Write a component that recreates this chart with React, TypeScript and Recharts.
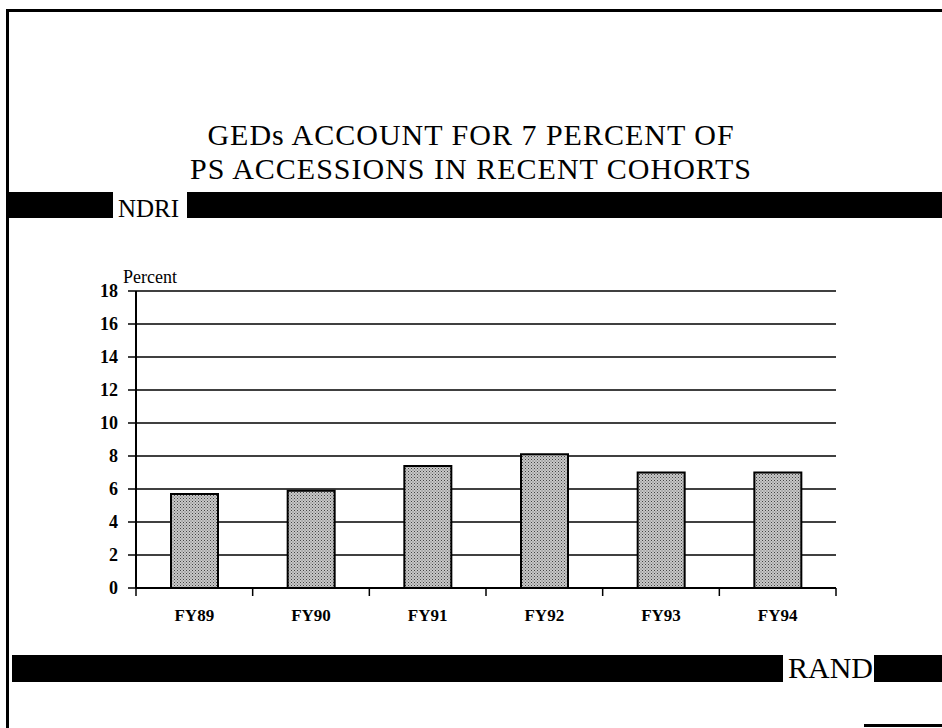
import React from 'react';
import { BarChart, Bar, XAxis, YAxis, CartesianGrid } from 'recharts';

// Fiscal-year cohorts and GED share of PS accessions (percent)
const categories = ['FY89', 'FY90', 'FY91', 'FY92', 'FY93', 'FY94'];
const gedPercent = [5.7, 5.9, 7.4, 8.1, 7.0, 7.0];
const yTicks = [0, 2, 4, 6, 8, 10, 12, 14, 16, 18];

const titleLines = ['GEDs ACCOUNT FOR 7 PERCENT OF', 'PS ACCESSIONS IN RECENT COHORTS'];

const SERIF = '"Liberation Serif", "DejaVu Serif", serif';

const data = categories.map((c, i) => ({ category: c, value: gedPercent[i] }));

// x-axis tick: tick marks sit on category boundaries, label in the middle
const CategoryTick = (props: any) => {
  const { x, y, payload, index } = props;
  const half = payload && payload.offset ? payload.offset : 0;
  const last = index === categories.length - 1;
  return (
    <g>
      <line x1={x - half} x2={x - half} y1={y} y2={y + 8} stroke="#000" strokeWidth={1.5} />
      {last && <line x1={x + half} x2={x + half} y1={y} y2={y + 8} stroke="#000" strokeWidth={1.5} />}
      <text x={x} y={y + 27} textAnchor="middle" dominantBaseline="central"
        fontFamily={SERIF} fontWeight="bold" fontSize={17} fill="#000">
        {payload.value}
      </text>
    </g>
  );
};

const App: React.FC = () => {
  return (
    <div style={{ position: 'absolute', left: 0, top: 0, width: 942, height: 728, background: '#fff', overflow: 'hidden', fontFamily: SERIF }}>
      {/* page frame */}
      <div style={{ position: 'absolute', left: 6, top: 9, width: 936, height: 3, background: '#000' }} />
      <div style={{ position: 'absolute', left: 6, top: 9, width: 3, height: 719, background: '#000' }} />
      <div style={{ position: 'absolute', left: 864, top: 724, width: 78, height: 3, background: '#000' }} />

      {/* title */}
      {titleLines.map((t, i) => (
        <div key={t} style={{ position: 'absolute', left: 0, width: 942, top: 118 + i * 34, height: 34, lineHeight: '34px', textAlign: 'center', fontSize: 30, letterSpacing: 1, color: '#000', whiteSpace: 'nowrap' }}>
          {t}
        </div>
      ))}

      {/* NDRI band */}
      <div style={{ position: 'absolute', left: 9, top: 192, width: 104, height: 26, background: '#000' }} />
      <div style={{ position: 'absolute', left: 118, top: 196, lineHeight: '25px', fontSize: 25, color: '#000' }}>NDRI</div>
      <div style={{ position: 'absolute', left: 187, top: 192, width: 755, height: 26, background: '#000' }} />

      {/* RAND band */}
      <div style={{ position: 'absolute', left: 12, top: 655, width: 771, height: 27, background: '#000' }} />
      <div style={{ position: 'absolute', left: 788, top: 653, lineHeight: '30px', fontSize: 30, color: '#000' }}>RAND</div>
      <div style={{ position: 'absolute', left: 874, top: 655, width: 68, height: 27, background: '#000' }} />

      {/* axis unit */}
      <div style={{ position: 'absolute', left: 123, top: 268, lineHeight: '18px', fontSize: 18, color: '#000' }}>Percent</div>

      <div style={{ position: 'absolute', left: 0, top: 0 }}>
        <BarChart width={942} height={728} data={data}
          margin={{ top: 291, right: 106, bottom: 110, left: 76 }}>
          <defs>
            <pattern id="stipple" width="3" height="3" patternUnits="userSpaceOnUse">
              <rect width="3" height="3" fill="#c8c8c8" />
              <rect x="0" y="0" width="1" height="1" fill="#444" />
              <rect x="1.5" y="1.5" width="1" height="1" fill="#666" />
            </pattern>
          </defs>
          <CartesianGrid vertical={false} stroke="#000" strokeWidth={1.5} />
          <XAxis dataKey="category" height={30} tickLine={false} tickSize={0} tickMargin={0}
            axisLine={{ stroke: '#000', strokeWidth: 2 }} tick={<CategoryTick />} interval={0} />
          <YAxis width={60} domain={[0, 18]} ticks={yTicks} interval={0}
            axisLine={{ stroke: '#000', strokeWidth: 2 }}
            tickLine={{ stroke: '#000', strokeWidth: 1.5 }} tickSize={8} tickMargin={10}
            tick={{ fill: '#000', fontFamily: SERIF, fontWeight: 'bold', fontSize: 18 }} />
          <Bar dataKey="value" fill="url(#stipple)" stroke="#000" strokeWidth={2} barSize={47} isAnimationActive={false} />
        </BarChart>
      </div>
    </div>
  );
};

export default App;
